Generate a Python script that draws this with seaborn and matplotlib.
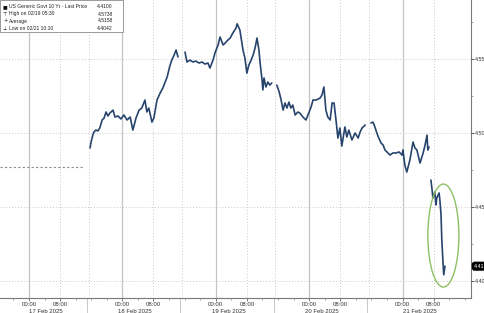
import matplotlib
matplotlib.use("Agg")
import matplotlib.pyplot as plt
import matplotlib.transforms as mtransforms
from matplotlib.patches import Ellipse, Rectangle
import numpy as np
import pandas as pd
import seaborn as sns

# ---------------- data (hours since 17 Feb 2025 00:00, yield %) ----------------
s1_hours = [15.7, 15.9, 16.4, 16.7, 17.2, 17.7, 18.2, 18.8, 19.3, 19.8, 20.3, 20.8, 21.6,
            22.1, 22.9, 23.6, 24.4, 25.2, 26.0, 26.7, 27.5, 28.3, 29.0, 29.8, 30.3, 30.8,
            31.6, 32.1, 32.9, 33.7, 34.4, 35.0, 35.5, 36.2, 36.7, 37.3, 37.8, 38.3]
s1_yield = [4.4899, 4.4932, 4.4986, 4.5007, 4.5020, 4.5014, 4.5034, 4.5088, 4.5101, 4.5142,
            4.5115, 4.5135, 4.5155, 4.5108, 4.5115, 4.5095, 4.5122, 4.5088, 4.5108, 4.5020,
            4.5101, 4.5155, 4.5169, 4.5223, 4.5142, 4.5169, 4.5074, 4.5101, 4.5223, 4.5270,
            4.5304, 4.5345, 4.5378, 4.5453, 4.5493, 4.5527, 4.5561, 4.5514]

s2_hours = [40.1, 40.6, 41.4, 42.1, 42.9, 43.7, 44.5, 45.2, 46.0, 46.5, 47.3, 47.8, 48.6,
            49.1, 49.9, 50.4, 51.1, 51.7, 52.4, 53.2, 53.5, 54.2, 55.0, 55.5, 56.0, 56.5,
            57.1, 57.6, 58.1, 58.6, 59.1, 59.4, 59.9, 60.1, 60.4, 60.9, 61.4, 61.9, 62.4]
s2_yield = [4.5547, 4.5480, 4.5493, 4.5480, 4.5486, 4.5473, 4.5480, 4.5466, 4.5473, 4.5439,
            4.5493, 4.5541, 4.5595, 4.5649, 4.5595, 4.5608, 4.5628, 4.5642, 4.5676, 4.5709,
            4.5738, 4.5696, 4.5561, 4.5507, 4.5405, 4.5459, 4.5493, 4.5527, 4.5574, 4.5642,
            4.5561, 4.5473, 4.5358, 4.5291, 4.5372, 4.5311, 4.5345, 4.5324, 4.5338]

s3_hours = [63.7, 64.3, 64.8, 65.3, 65.8, 66.3, 66.8, 67.3, 67.8, 68.4, 69.1, 69.6, 70.4,
            71.2, 71.7, 72.5, 73.0, 73.8, 74.8, 75.3, 75.8, 76.3, 76.8, 77.4, 77.9, 78.4,
            78.9, 79.4, 79.9, 80.4, 81.2, 81.7, 82.2, 83.0, 83.8, 84.6, 85.1, 85.6, 86.4]
s3_yield = [4.5324, 4.5277, 4.5223, 4.5155, 4.5203, 4.5169, 4.5209, 4.5169, 4.5189, 4.5122,
            4.5142, 4.5135, 4.5108, 4.5088, 4.5122, 4.5176, 4.5223, 4.5223, 4.5236, 4.5257,
            4.5311, 4.5155, 4.5108, 4.5088, 4.5203, 4.5203, 4.5088, 4.4966, 4.5034, 4.4912,
            4.5041, 4.4973, 4.5020, 4.4953, 4.5000, 4.4966, 4.5007, 4.5034, 4.5054]

s4_hours = [87.9, 88.4, 88.9, 89.4, 89.9, 90.5, 91.0, 91.5, 92.0, 92.8, 93.5, 94.3, 95.1,
            95.9, 96.1, 96.6, 97.1, 97.9, 98.7, 99.2, 99.7, 100.5, 101.3, 101.8, 102.3,
            102.5, 102.8]
s4_yield = [4.5068, 4.5074, 4.5041, 4.5000, 4.4966, 4.4932, 4.4919, 4.4885, 4.4872, 4.4851,
            4.4865, 4.4865, 4.4872, 4.4851, 4.4885, 4.4784, 4.4736, 4.4818, 4.4939, 4.4899,
            4.4885, 4.4797, 4.4865, 4.4919, 4.4986, 4.4885, 4.4905]

s5_hours = [103.3, 103.6, 103.8, 104.3, 104.6, 104.8, 105.4, 105.6, 105.9, 106.1, 106.4,
            106.6, 106.9]
s5_yield = [4.4682, 4.4615, 4.4561, 4.4601, 4.4514, 4.4561, 4.4595, 4.4547, 4.4446, 4.4277,
            4.4128, 4.4042, 4.4100]

prev_close = 4.477
prev_close_span = [-7.45, 14.1]

last_price = 4.4100
legend_rows = [("\u25A0", "US Generic Govt 10 Yr - Last Price", "4.4100"),
               ("\u22A4", "High on 02/19 05:30", "4.5738"),
               ("+", "Average", "4.5158"),
               ("\u22A5", "Low on 02/21 10:10", "4.4042")]

day_labels = ["17 Feb 2025", "18 Feb 2025", "19 Feb 2025", "20 Feb 2025", "21 Feb 2025"]
y_ticks = [4.40, 4.45, 4.50, 4.55]

# ---------------- frame ----------------
sessions = [(s1_hours, s1_yield), (s2_hours, s2_yield), (s3_hours, s3_yield),
            (s4_hours, s4_yield), (s5_hours, s5_yield)]
df = pd.concat([pd.DataFrame({"hours": h, "yield": v, "session": i})
                for i, (h, v) in enumerate(sessions)], ignore_index=True)

sns.set_theme(style="white")
plt.rcParams["font.family"] = ["Liberation Sans", "DejaVu Sans"]

fig = plt.figure(figsize=(4.85, 3.13), dpi=100)
ax = fig.add_axes([0.0, 15 / 313, 471 / 485, 298 / 313])

xmin, xmax = -7.45, 113.6
ax.set_xlim(xmin, xmax)
ax.set_ylim(4.3885, 4.5899)

# gridlines
grid_dot = "#c9c9c9"
for yt in y_ticks:
    ax.axhline(yt, color=grid_dot, lw=0.7, ls=(0, (1, 2)), zorder=0)
sep_hours = [15.3 + 24 * k for k in range(4)]
for d in range(5):
    ax.axvline(24 * d, color="#c4c4c4", lw=0.9, zorder=0)
    ax.axvline(24 * d + 8, color=grid_dot, lw=0.7, ls=(0, (1, 2)), zorder=0)
for s in sep_hours:
    ax.axvline(s, color=grid_dot, lw=0.7, ls=(0, (1, 2)), zorder=0)

# previous close dashed line
ax.plot(prev_close_span, [prev_close, prev_close], color="#8a8a8a", lw=0.8,
        ls=(0, (2, 2)), zorder=1)

sns.lineplot(data=df, x="hours", y="yield", units="session", estimator=None,
             sort=False, color="#27446d", lw=1.2, ax=ax, legend=False, zorder=3)

# highlight ellipse
ax.add_patch(Ellipse((106.5, 4.4307), 7.97, 0.0696, fill=False, ec="#8cc063", lw=1.0,
                     zorder=4))

# spines
for side in ["left", "top"]:
    ax.spines[side].set_visible(False)
for side in ["right", "bottom"]:
    ax.spines[side].set_color("#7a7a7a")
    ax.spines[side].set_linewidth(0.8)

# y axis right
ax.yaxis.tick_right()
ax.set_yticks(y_ticks)
ax.set_yticklabels([f"{t:.2f}" for t in y_ticks])
ax.set_yticks([t + 0.025 for t in y_ticks], minor=True)
ax.tick_params(axis="y", which="major", right=True, length=2, width=0.7, color="#555555",
               labelsize=3.9, labelcolor="#333333", pad=0.6)
ax.tick_params(axis="y", which="minor", right=True, length=1.5, width=0.5, color="#888888")
ax.set_ylabel("")

# x axis
major = []
for d in range(5):
    major += [24 * d, 24 * d + 8]
ax.set_xticks(major)
ax.set_xticklabels(["00:00", "08:00"] * 5)
ax.set_xticks(np.arange(-4, 113, 4), minor=True)
ax.tick_params(axis="x", which="major", bottom=True, length=2, width=0.6, color="#666666",
               labelsize=4.3, labelcolor="#333333", pad=1)
ax.tick_params(axis="x", which="minor", bottom=True, length=1.5, width=0.5, color="#888888")
ax.set_xlabel("")

trans = mtransforms.blended_transform_factory(ax.transData, ax.transAxes)
bounds = [xmin] + sep_hours + [xmax]
for i, lab in enumerate(day_labels):
    cx = (max(bounds[i], xmin) + bounds[i + 1]) / 2
    if i == 0:
        cx += 0.3
    ax.text(cx, -0.038, lab, transform=trans, ha="center", va="top", fontsize=4.3,
            color="#333333", clip_on=False)
for s in sep_hours:
    ax.plot([s - 0.4, s - 0.4], [0, -15 / 298], transform=trans, color="#c8c8c8", lw=0.7,
            clip_on=False)

# last price tag
ax.text(1.006, last_price, f"{last_price:.2f}", transform=mtransforms.blended_transform_factory(
    ax.transAxes, ax.transData), ha="left", va="center", fontsize=3.9, color="white",
        bbox=dict(boxstyle="round,pad=0.25,rounding_size=0.4", fc="black", ec="black"),
        clip_on=False, zorder=6)

# legend box
bw, bh = 123 / 471, 32 / 298
ax.add_patch(Rectangle((0, 1 - bh), bw, bh, transform=ax.transAxes, fc="white",
                       ec="#9a9a9a", lw=0.7, zorder=7, clip_on=False))
for i, (mk, lab, val) in enumerate(legend_rows):
    yy = 1 - (7 + 7 * i) / 298
    ax.text(3 / 471, yy, mk, transform=ax.transAxes, fontsize=3.6, va="center", ha="left",
            color="#111111", zorder=8, family=["DejaVu Sans"])
    ax.text(9 / 471, yy, lab, transform=ax.transAxes, fontsize=3.6, va="center", ha="left",
            color="#222222", zorder=8)
    ax.text(113 / 471, yy, val, transform=ax.transAxes, fontsize=3.6, va="center",
            ha="right", color="#222222", zorder=8)

fig.savefig("out.png", dpi=100)
